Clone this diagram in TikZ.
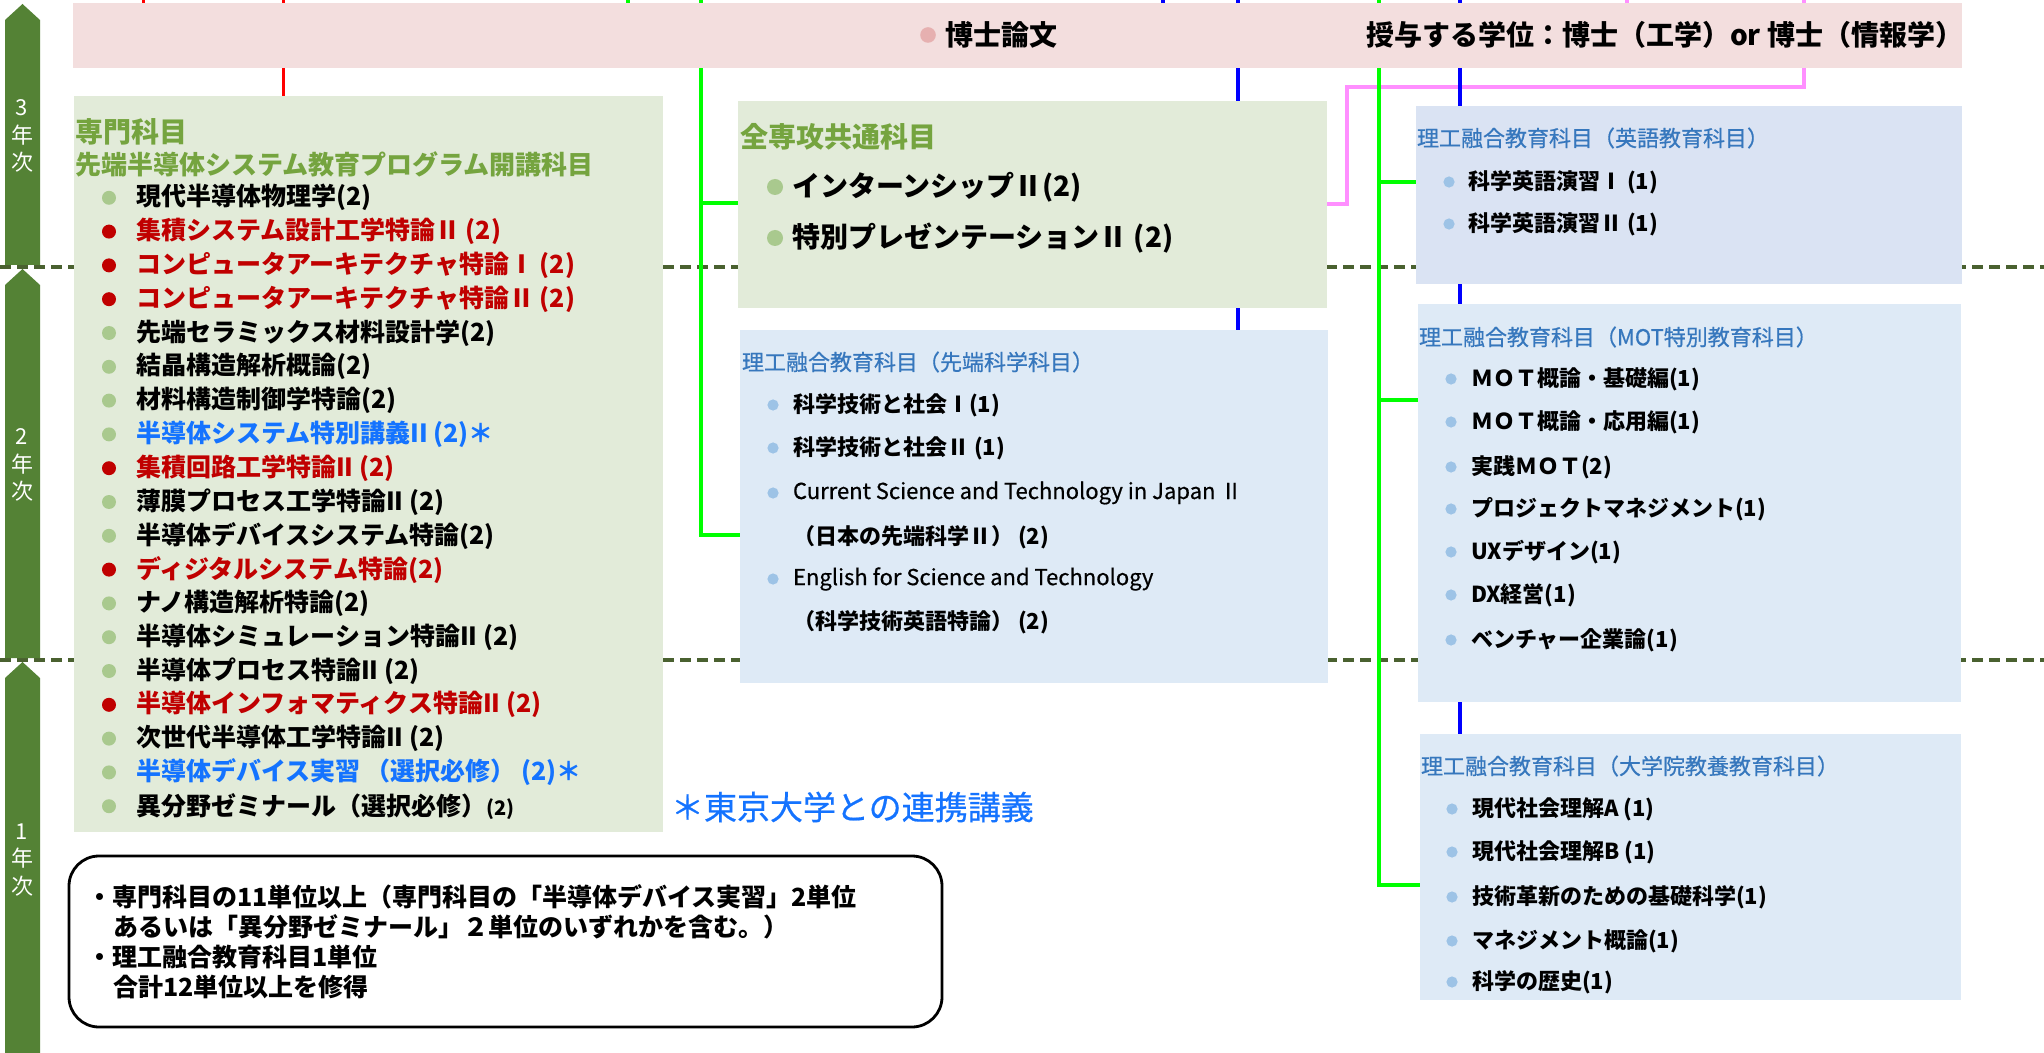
\documentclass[tikz,border=0pt]{standalone}
\usepackage{fontspec}
\setmainfont{Noto Sans CJK JP}
\newfontfamily\jpmed{Noto Sans CJK JP}[FakeBold=0.6]
\usetikzlibrary{calc}
\definecolor{bandc}{HTML}{F3DEDE}
\definecolor{gfill}{HTML}{E2EBD9}
\definecolor{bfill}{HTML}{DEEAF6}
\definecolor{bfilltwo}{HTML}{DAE3F3}
\definecolor{ghead}{HTML}{75A43F}
\definecolor{bhead}{HTML}{3677BD}
\definecolor{gbul}{HTML}{A9C98E}
\definecolor{bbul}{HTML}{9DC3E6}
\definecolor{pdot}{HTML}{E6B0B0}
\definecolor{redt}{HTML}{C00000}
\definecolor{bluet}{HTML}{1473FF}
\definecolor{arrowc}{HTML}{548235}
\definecolor{dashc}{HTML}{4A6130}
\definecolor{lred}{HTML}{FF0000}
\definecolor{lgreen}{HTML}{00FF00}
\definecolor{lblue}{HTML}{0000FF}
\definecolor{lpink}{HTML}{FF8FFF}
\pgfdeclarelayer{dashes}
\pgfdeclarelayer{lines}
\pgfsetlayers{dashes,lines,main}
\begin{document}
\begin{tikzpicture}[x=0.5pt,y=-0.5pt,
  box/.style={anchor=north west, inner sep=0pt, outer sep=0pt, draw=none},
  txt/.style={anchor=west, inner sep=0pt, outer sep=0pt},
  sitem/.style={txt, font=\fontsize{12.5}{15}\selectfont\bfseries},
  zitem/.style={txt, font=\fontsize{14}{16}\selectfont\bfseries},
  bitem/.style={txt, font=\fontsize{11}{13}\selectfont\bfseries},
  eitem/.style={txt, font=\fontsize{11}{13}\selectfont\jpmed},
  bhd/.style={txt, text=bhead, font=\fontsize{11}{13}\selectfont\jpmed},
  ghd/.style={txt, text=ghead, font=\fontsize{14}{16}\selectfont\bfseries},
  yl/.style={text=white, align=center, inner sep=0pt, font=\fontsize{11}{13.75}\selectfont},
  dashl/.style={draw=dashc, line width=1.65pt, dash pattern=on 5.5pt off 3pt},
  redl/.style={draw=lred, line width=1.5pt},
  grnl/.style={draw=lgreen, line width=2.2pt},
  blul/.style={draw=lblue, line width=1.75pt},
  pnkl/.style={draw=lpink, line width=2pt},
  yarrow/.style={fill=arrowc},
]
\useasboundingbox (0,0) rectangle (2044,1053);

% year arrows
\fill[yarrow] (5,20) -- (22.5,4) -- (40,20) -- (40,265) -- (5,265) -- cycle;
\fill[yarrow] (5,285) -- (22.5,269) -- (40,285) -- (40,658) -- (5,658) -- cycle;
\fill[yarrow] (5,678) -- (22.5,662) -- (40,678) -- (40,1053) -- (5,1053) -- cycle;
\node[yl] (y3) at (22,136) {3\\年\\次};
\node[yl] (y2) at (22,465) {2\\年\\次};
\node[yl] (y1) at (22,860) {1\\年\\次};

% boxes
\node[box, fill=bandc, minimum width=944.5pt, minimum height=32.5pt] (band) at (73,3) {};
\node[box, fill=gfill, minimum width=294.5pt, minimum height=368pt] (senmon) at (74,96) {};
\node[box, fill=gfill, minimum width=294.5pt, minimum height=103.5pt] (zensen) at (738,101) {};
\node[box, fill=bfill, minimum width=294pt, minimum height=176.5pt] (sentan) at (740,330) {};
\node[box, fill=bfilltwo, minimum width=273pt, minimum height=89pt] (eigo) at (1416,106) {};
\node[box, fill=bfill, minimum width=271.5pt, minimum height=199pt] (mot) at (1418,304) {};
\node[box, fill=bfill, minimum width=270.5pt, minimum height=133pt] (kyoyo) at (1420,734) {};
\node[box, draw=black, fill=white, line width=1.4pt, rounded corners=15pt, minimum width=436.5pt, minimum height=85.5pt] (note) at (69,856) {};

% band text
\fill[pdot] (928,35) circle (3.9pt);
\node[txt, font=\fontsize{14}{16}\selectfont\bfseries] (doc) at (945,35) {博士論文};
\node[txt, font=\fontsize{14}{16}\selectfont\bfseries] (deg) at (1366,35) {授与する学位：博士（工学）or 博士（情報学）};

% senmon
\node[ghd] (sh1) at (75,132) {専門科目};
\node[txt, text=ghead, font=\fontsize{13}{15}\selectfont\bfseries] (sh2) at (75,164) {先端半導体システム教育プログラム開講科目};
\foreach \i/\c/\b/\t in {
  1/black/gbul/{現代半導体物理学(2)},
  2/redt/redt/{集積システム設計工学特論Ⅱ (2)},
  3/redt/redt/{コンピュータアーキテクチャ特論Ⅰ (2)},
  4/redt/redt/{コンピュータアーキテクチャ特論Ⅱ (2)},
  5/black/gbul/{先端セラミックス材料設計学(2)},
  6/black/gbul/{結晶構造解析概論(2)},
  7/black/gbul/{材料構造制御学特論(2)},
  8/bluet/gbul/{半導体システム特別講義II (2)＊},
  9/redt/redt/{集積回路工学特論II (2)},
  10/black/gbul/{薄膜プロセス工学特論II (2)},
  11/black/gbul/{半導体デバイスシステム特論(2)},
  12/redt/redt/{ディジタルシステム特論(2)},
  13/black/gbul/{ナノ構造解析特論(2)},
  14/black/gbul/{半導体シミュレーション特論II (2)},
  15/black/gbul/{半導体プロセス特論II (2)},
  16/redt/redt/{半導体インフォマティクス特論II (2)},
  17/black/gbul/{次世代半導体工学特論II (2)},
  18/bluet/gbul/{半導体デバイス実習 （選択必修） (2)＊}}{
  \fill[\b] (109,{164+33.8*\i}) circle (3.5pt);
  \node[sitem, text=\c] (s\i) at (136,{164+33.8*\i}) {\t};
}
\fill[gbul] (109,806.2) circle (3.5pt);
\node[sitem] (s19) at (136,806.2) {異分野ゼミナール（選択必修）{\fontsize{10}{12}\selectfont (2)}};
\node[txt, text=bluet, font=\fontsize{16.5}{18}\selectfont\jpmed] (tokyo) at (671,807) {＊東京大学との連携講義};

% note
\node[sitem] (n1) at (87,897) {・専門科目の11単位以上（専門科目の「半導体デバイス実習」2単位};
\node[sitem] (n2) at (113,927) {あるいは「異分野ゼミナール」２単位のいずれかを含む。）};
\node[sitem] (n3) at (87,957) {・理工融合教育科目1単位};
\node[sitem] (n4) at (113,987) {合計12単位以上を修得};

% zensen
\node[ghd] (zh) at (740,137) {全専攻共通科目};
\fill[gbul] (775,187) circle (4pt);
\node[zitem] (z1) at (792,187) {インターンシップⅡ(2)};
\fill[gbul] (775,238) circle (4pt);
\node[zitem] (z2) at (792,238) {特別プレゼンテーションⅡ (2)};

% sentan
\node[bhd] (th) at (742,362) {理工融合教育科目（先端科学科目）};
\foreach \y in {405,448,493,579} {\fill[bbul] (773,\y) circle (2.8pt);}
\node[bitem] (t1) at (793,405) {科学技術と社会Ⅰ(1)};
\node[bitem] (t2) at (793,448) {科学技術と社会Ⅱ (1)};
\node[eitem] (t3) at (793,493) {Current Science and Technology in Japan Ⅱ};
\node[bitem] (t4) at (793,537) {（日本の先端科学Ⅱ） (2)};
\node[eitem] (t5) at (793,579) {English for Science and Technology};
\node[bitem] (t6) at (793,622) {（科学技術英語特論） (2)};

% eigo
\node[bhd] (eh) at (1417,138) {理工融合教育科目（英語教育科目）};
\foreach \y in {182,224} {\fill[bbul] (1449,\y) circle (2.8pt);}
\node[bitem] (e1) at (1468,182) {科学英語演習Ⅰ (1)};
\node[bitem] (e2) at (1468,224) {科学英語演習Ⅱ (1)};

% mot
\node[bhd] (mh) at (1419,337) {理工融合教育科目（MOT特別教育科目）};
\foreach \y in {379,422,467,509,552,595,640} {\fill[bbul] (1451,\y) circle (2.8pt);}
\node[bitem] (m1) at (1471,379) {ＭＯＴ概論・基礎編(1)};
\node[bitem] (m2) at (1471,422) {ＭＯＴ概論・応用編(1)};
\node[bitem] (m3) at (1471,467) {実践ＭＯＴ(2)};
\node[bitem] (m4) at (1471,509) {プロジェクトマネジメント(1)};
\node[bitem] (m5) at (1471,552) {UXデザイン(1)};
\node[bitem] (m6) at (1471,595) {DX経営(1)};
\node[bitem] (m7) at (1471,640) {ベンチャー企業論(1)};

% kyoyo
\node[bhd] (kh) at (1421,766) {理工融合教育科目（大学院教養教育科目）};
\foreach \y in {809,852,897,941,982} {\fill[bbul] (1452,\y) circle (2.8pt);}
\node[bitem] (k1) at (1472,809) {現代社会理解A (1)};
\node[bitem] (k2) at (1472,852) {現代社会理解B (1)};
\node[bitem] (k3) at (1472,897) {技術革新のための基礎科学(1)};
\node[bitem] (k4) at (1472,941) {マネジメント概論(1)};
\node[bitem] (k5) at (1472,982) {科学の歴史(1)};

% dashed year separators
\begin{pgfonlayer}{dashes}
\fill[white] (0,0) rectangle (2044,1053);
\coordinate (dl1) at (0,267); \coordinate (dr1) at (2044,267);
\coordinate (dl2) at (0,660); \coordinate (dr2) at (2044,660);
\draw[dashl] (dl1) -- (dr1);
\draw[dashl] (dl2) -- (dr2);
\end{pgfonlayer}

% connectors
\begin{pgfonlayer}{lines}
\coordinate (tP1) at (1627,0);
\coordinate (tP2) at (1804,0);
\coordinate (pk1) at (1804,87);
\coordinate (pk2) at (1347,87);
\coordinate (pk3) at (1347,204);
\draw[pnkl] (tP1) -- (tP1 |- band.south);
\draw[pnkl] (tP2) -- (pk1) -- (pk2) -- (pk3) -- (pk3 -| zensen.east);

\coordinate (tR1) at (143,0);
\coordinate (tR2) at (283,0);
\draw[redl] (tR1) -- (tR1 |- band.south);
\draw[redl] (tR2) -- (tR2 |- senmon.north);

\coordinate (tG1) at (628,0);
\coordinate (tG2) at (701,0);
\coordinate (gj1) at (701,203);
\coordinate (gj2) at (701,535);
\draw[grnl] (tG1) -- (tG1 |- band.south);
\draw[grnl] (tG2) -- (gj2) -- (gj2 -| sentan.west);
\draw[grnl] (gj1) -- (gj1 -| zensen.west);

\coordinate (tB1) at (1163,0);
\coordinate (tB2) at (1238,0);
\coordinate (tB3) at (1460,0);
\draw[blul] (tB1) -- (tB1 |- band.south);
\draw[blul] (tB2) -- (tB2 |- sentan.north);
\draw[blul] (tB3) -- (tB3 |- kyoyo.north);

\coordinate (tG3) at (1379,0);
\coordinate (gj3) at (1379,182);
\coordinate (gj4) at (1379,400);
\coordinate (gj5) at (1379,885);
\draw[grnl] (tG3) -- (gj5) -- (gj5 -| kyoyo.west);
\draw[grnl] (gj3) -- (gj3 -| eigo.west);
\draw[grnl] (gj4) -- (gj4 -| mot.west);
\end{pgfonlayer}
\end{tikzpicture}
\end{document}
